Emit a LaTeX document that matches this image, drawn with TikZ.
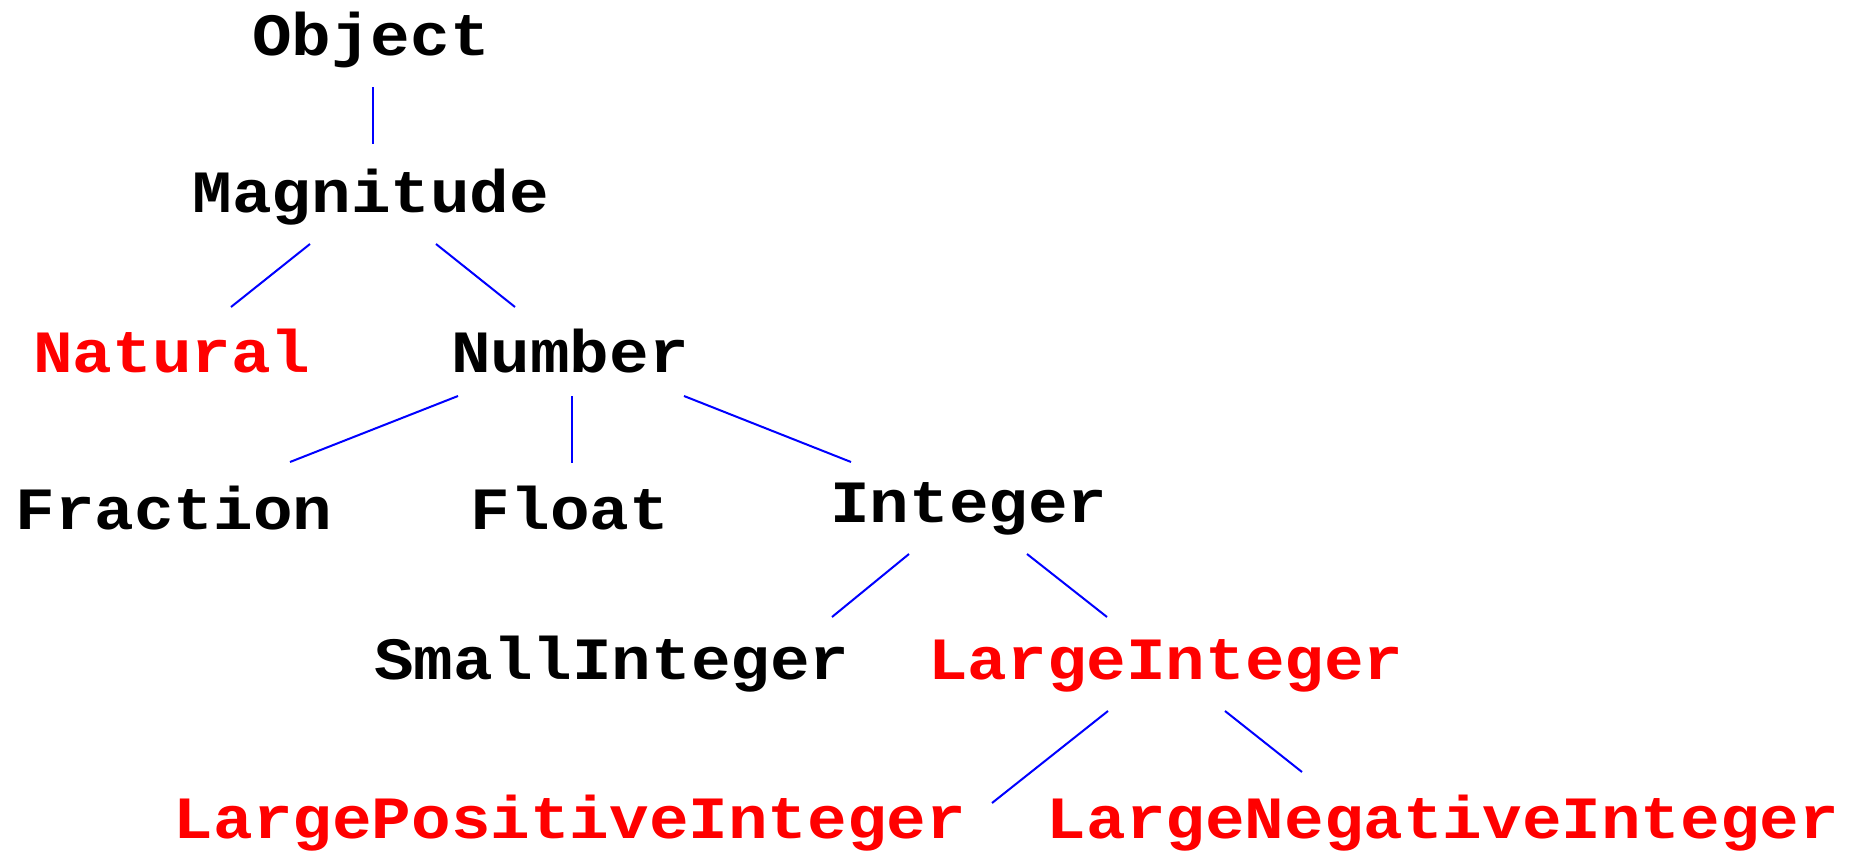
\documentclass[tikz,border=0pt]{standalone}
\usepackage{fontspec}
\newfontfamily\classfont[FakeStretch=1.1]{Liberation Mono}
\begin{document}
\begin{tikzpicture}[x=0.5pt,y=-0.5pt,
  cls/.style={anchor=base,inner sep=0pt,font=\classfont\bfseries\fontsize{30}{36}\selectfont},
  abstract/.style={cls,text=black},
  special/.style={cls,text=red},
  link/.style={draw=blue,line width=1pt}]
\useasboundingbox (0,0) rectangle (1864,851);

% class names, placed at their baselines
\node[abstract] (obj)   at (371,55)  {Object};
\node[abstract] (mag)   at (371,212) {Magnitude};
\node[special]  (nat)   at (172,372) {Natural};
\node[abstract] (num)   at (570,372) {Number};
\node[abstract] (frac)  at (174,529) {Fraction};
\node[abstract] (flt)   at (570,529) {Float};
\node[abstract] (intg)  at (969,522) {Integer};
\node[abstract] (small) at (612,679) {SmallInteger};
\node[special]  (large) at (1166,679) {LargeInteger};
\node[special]  (lpi)   at (570,838) {LargePositiveInteger};
\node[special]  (lni)   at (1443,838) {LargeNegativeInteger};

% inheritance links, parent below to child above
\draw[link] ([shift={(2,32)}]obj.base)    -- ([shift={(2,-68)}]mag.base);
\draw[link] ([shift={(-61,32)}]mag.base)  -- ([shift={(59,-65)}]nat.base);
\draw[link] ([shift={(65,32)}]mag.base)   -- ([shift={(-55,-65)}]num.base);
\draw[link] ([shift={(-112,24)}]num.base) -- ([shift={(116,-67)}]frac.base);
\draw[link] ([shift={(2,24)}]num.base)    -- ([shift={(2,-66)}]flt.base);
\draw[link] ([shift={(114,24)}]num.base)  -- ([shift={(-118,-60)}]intg.base);
\draw[link] ([shift={(-60,32)}]intg.base) -- ([shift={(220,-62)}]small.base);
\draw[link] ([shift={(58,32)}]intg.base)  -- ([shift={(-59,-62)}]large.base);
\draw[link] ([shift={(-58,32)}]large.base) -- ([shift={(422,-35)}]lpi.base);
\draw[link] ([shift={(59,32)}]large.base)  -- ([shift={(-141,-66)}]lni.base);
\end{tikzpicture}
\end{document}
